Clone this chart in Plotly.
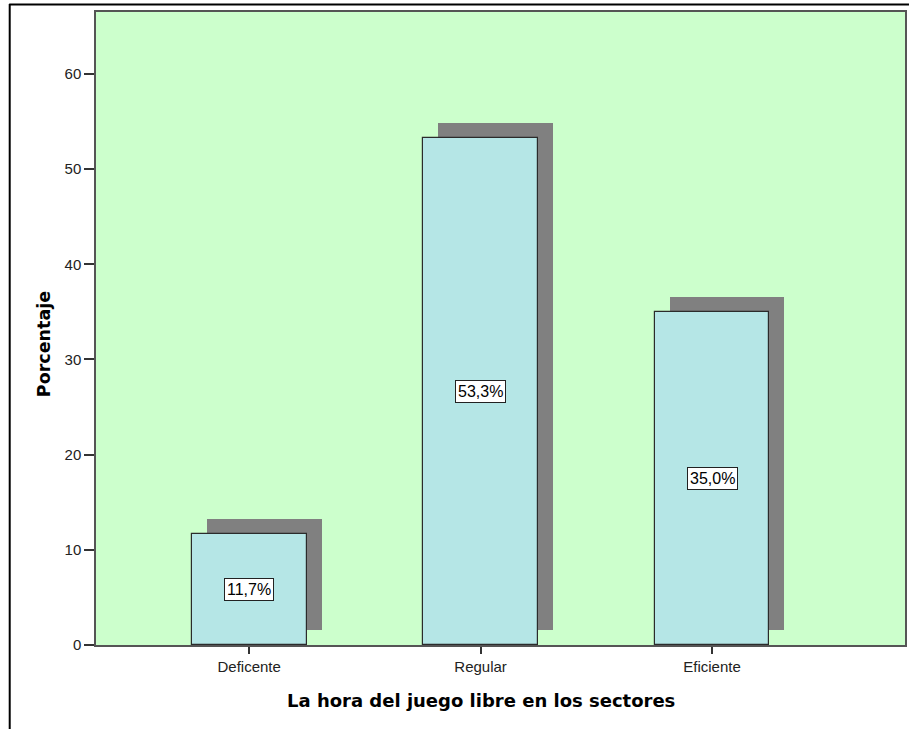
import plotly.graph_objects as go

# Category data
categories = ["Deficente", "Regular", "Eficiente"]
percentages = [11.7, 53.3, 35.0]
value_labels = ["11,7%", "53,3%", "35,0%"]
y_ticks = [0, 10, 20, 30, 40, 50, 60]

W, H = 909, 729
M_L, M_R, M_T, M_B = 96, 2, 12, 84
plot_w = W - M_L - M_R
plot_h = H - M_T - M_B

x_pos = list(range(len(categories)))
x_range = [-0.662, 2.834]
y_range = [0, 66.5]

# drop-shadow offset of 15 px expressed in axis units
px_x = plot_w / (x_range[1] - x_range[0])
px_y = plot_h / (y_range[1] - y_range[0])
dx = 15 / px_x
dy = 15 / px_y
bar_w = 115 / px_x

fig = go.Figure()

# shadow behind each bar
fig.add_trace(go.Bar(
    x=[p + dx for p in x_pos], y=percentages, base=[dy] * len(percentages),
    width=bar_w, marker=dict(color="#808080", line=dict(width=0)),
    hoverinfo="skip", showlegend=False,
))

# main bars
fig.add_trace(go.Bar(
    x=x_pos, y=percentages, width=bar_w,
    marker=dict(color="#B5E6E6", line=dict(color="#2b2b2b", width=1.2)),
    showlegend=False,
))

# value labels in boxed annotations at bar middle
for p, v, lab in zip(x_pos, percentages, value_labels):
    fig.add_annotation(
        x=p, y=v / 2, text=lab, showarrow=False,
        font=dict(family="Liberation Sans, Arial", size=16, color="#000"),
        bgcolor="white", bordercolor="#222", borderwidth=1, borderpad=2,
    )

def px2paper_x(px):
    return (px - M_L) / plot_w

def py2paper_y(py):
    return (H - M_B - py) / plot_h

# axis titles
fig.add_annotation(
    xref="paper", yref="paper", x=px2paper_x(482), y=py2paper_y(700),
    text="<b>La hora del juego libre en los sectores</b>", showarrow=False,
    font=dict(family="DejaVu Sans", size=18, color="#000"),
    xanchor="center", yanchor="middle",
)
fig.add_annotation(
    xref="paper", yref="paper", x=px2paper_x(44), y=py2paper_y(344),
    text="<b>Porcentaje</b>", showarrow=False, textangle=-90,
    font=dict(family="DejaVu Sans", size=17.5, color="#000"),
    xanchor="center", yanchor="middle",
)

# outer frame lines (left and top)
fig.add_shape(type="line", xref="paper", yref="paper",
              x0=px2paper_x(9.5), x1=px2paper_x(9.5),
              y0=py2paper_y(4), y1=py2paper_y(H + 2),
              line=dict(color="#000", width=2))
fig.add_shape(type="line", xref="paper", yref="paper",
              x0=px2paper_x(9), x1=px2paper_x(W + 2),
              y0=py2paper_y(4.5), y1=py2paper_y(4.5),
              line=dict(color="#000", width=2))

fig.update_layout(
    width=W, height=H,
    margin=dict(l=M_L, r=M_R, t=M_T, b=M_B, pad=0),
    paper_bgcolor="white", plot_bgcolor="#CCFFCC",
    barmode="overlay", bargap=0,
    font=dict(family="Liberation Sans, Arial", size=15, color="#222"),
)
fig.update_xaxes(
    range=x_range, tickmode="array", tickvals=x_pos, ticktext=categories,
    showgrid=False, zeroline=False,
    showline=True, linecolor="#555", linewidth=1.5, mirror=True,
    ticks="outside", ticklen=7, tickcolor="#333", tickwidth=1.5,
    tickfont=dict(size=15, color="#222"),
)
fig.update_yaxes(
    range=y_range, tickmode="array", tickvals=y_ticks,
    showgrid=False, zeroline=False,
    showline=True, linecolor="#555", linewidth=1.5, mirror=True,
    ticks="outside", ticklen=10, tickcolor="#333", tickwidth=1.5,
    tickfont=dict(size=15, color="#222"),
)

fig.write_html("out.html")
